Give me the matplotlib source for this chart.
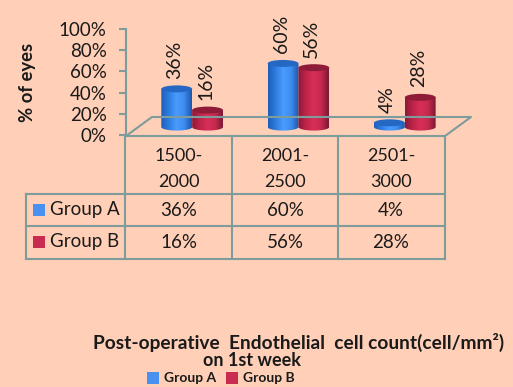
import numpy as np
import matplotlib
matplotlib.use('Agg')
import matplotlib.pyplot as plt
from matplotlib.colors import LinearSegmentedColormap
from matplotlib.lines import Line2D
from matplotlib.patches import PathPatch, Ellipse, Rectangle
from matplotlib.path import Path
from matplotlib.transforms import Affine2D

categories = ['1500-\n2000', '2001-\n2500', '2501-\n3000']
group_names = ['Group A', 'Group B']
group_a = [36, 60, 4]
group_b = [16, 56, 28]
y_ticks = [0, 20, 40, 60, 80, 100]

BG = '#FFCFB7'
GRID = '#7F9C9C'
TEXT = '#1a1a1a'
W, H = 513, 387

plt.rcParams['font.family'] = ['Lato', 'DejaVu Sans']

fig = plt.figure(figsize=(W / 100, H / 100), dpi=100, facecolor=BG)
ax = fig.add_axes([126 / W, 1 - 135 / H, 319 / W, 106 / H])
ax.set_facecolor('none')

# layout in image pixels, for the table and the captions
px = Affine2D().scale(1 / W, -1 / H).translate(0, 1) + fig.transFigure


def table_line(x, y):
    fig.add_artist(Line2D(x, y, transform=px, color=GRID, lw=1.5, zorder=1))


def cylinder(center, value, cmap, top_color):
    """One 3D looking column, base sits a bit above the axis floor"""
    half_w = 0.145
    base = 7.5
    ry = 3.3
    t = np.linspace(0, np.pi, 40)
    xs = center + half_w * np.cos(t)
    lower = base - ry * np.sin(t)
    verts = [(center + half_w, base + value)] + list(zip(xs, lower))
    verts += [(center - half_w, base + value), (center + half_w, base + value)]
    codes = [Path.MOVETO] + [Path.LINETO] * (len(verts) - 1)
    patch = PathPatch(Path(verts, codes), fc='none', ec='none', zorder=3)
    ax.add_patch(patch)
    grad = np.linspace(0, 1, 64).reshape(1, -1)
    img = ax.imshow(grad, cmap=cmap, aspect='auto', zorder=3,
                    extent=[center - half_w, center + half_w, base - ry, base + value + ry])
    img.set_clip_path(patch)
    ax.add_patch(Ellipse((center, base + value), 2 * half_w, 2 * ry, fc=top_color, ec='none', zorder=4))


blue_map = LinearSegmentedColormap.from_list('blue', ['#1E5FB8', '#2F7DE0', '#4A9CFF', '#3F8CF0', '#1C58AC'])
red_map = LinearSegmentedColormap.from_list('red', ['#8A1A3A', '#BE2448', '#D82E58', '#C62A4E', '#7E1733'])
blue_top = '#2468C4'
red_top = '#8E1C38'

x_pos = np.arange(len(categories)) + 0.5
shift = 0.122
offset = 0.145
for i, c in enumerate(x_pos):
    cylinder(c + shift - offset, group_a[i], blue_map, blue_top)
    cylinder(c + shift + offset, group_b[i], red_map, red_top)
    for dx, val in [(-offset, group_a[i]), (offset, group_b[i])]:
        ax.annotate(f'{val}%', (c + shift + dx, val + 7.5), xytext=(-2, 10), textcoords='offset pixels',
                    rotation=90, ha='center', va='bottom', fontsize=14, color=TEXT,
                    annotation_clip=False, zorder=5)

ax.set_xlim(0, 3)
ax.set_ylim(0, 100)
ax.set_xticks([])
ax.set_yticks(y_ticks)
ax.set_yticklabels([f'{v}%' for v in y_ticks], fontsize=13.5, color=TEXT)
ax.tick_params(axis='y', length=5, width=1.5, color=GRID, pad=9)
for side in ['top', 'right', 'bottom']:
    ax.spines[side].set_visible(False)
ax.spines['left'].set_color(GRID)
ax.spines['left'].set_linewidth(1.5)

# floor of the 3D plot
table_line([126, 152, 471, 445], [136, 117, 117, 136])

# data table
for y, x0 in [(136, 125), (194, 26), (226, 26), (259, 26)]:
    table_line([x0, 445], [y, y])
table_line([26, 26], [194, 259])
for x in [125, 232, 338, 445]:
    table_line([x, x], [136, 259])

cell_x = [179, 285, 391]
for x, cat in zip(cell_x, categories):
    fig.text(x, 169, cat, transform=px, ha='center', va='center', fontsize=13, color=TEXT, linespacing=1.75)
for y, name, vals, col in [(210, group_names[0], group_a, '#4A90F0'), (242, group_names[1], group_b, '#C92C50')]:
    fig.add_artist(Rectangle((33, y - 6), 12, 12, transform=px, fc=col, ec='none'))
    fig.text(50, y - 1, name, transform=px, ha='left', va='center', fontsize=13.5, color=TEXT)
    for x, v in zip(cell_x, vals):
        fig.text(x, y, f'{v}%', transform=px, ha='center', va='center', fontsize=13.5, color=TEXT)

# labels
fig.text(28, 82, '% of eyes', transform=px, rotation=90, ha='center', va='center',
         fontsize=13.3, fontweight='bold', color=TEXT)
fig.text(299, 342, 'Post-operative  Endothelial  cell count(cell/mm²)', transform=px, ha='center', va='center',
         fontsize=13.8, fontweight='bold', color=TEXT)
fig.text(252, 360, 'on 1st week', transform=px, ha='center', va='center',
         fontsize=13, fontweight='bold', color=TEXT)

# legend at the bottom
for x, name, col in [(147, group_names[0], '#4A90F0'), (226, group_names[1], '#C92C50')]:
    fig.add_artist(Rectangle((x, 372), 12, 12, transform=px, fc=col, ec='none'))
    fig.text(x + 17, 378, name, transform=px, ha='left', va='center', fontsize=10, fontweight='bold', color=TEXT)

fig.savefig('out.png', dpi=100, facecolor=BG)
